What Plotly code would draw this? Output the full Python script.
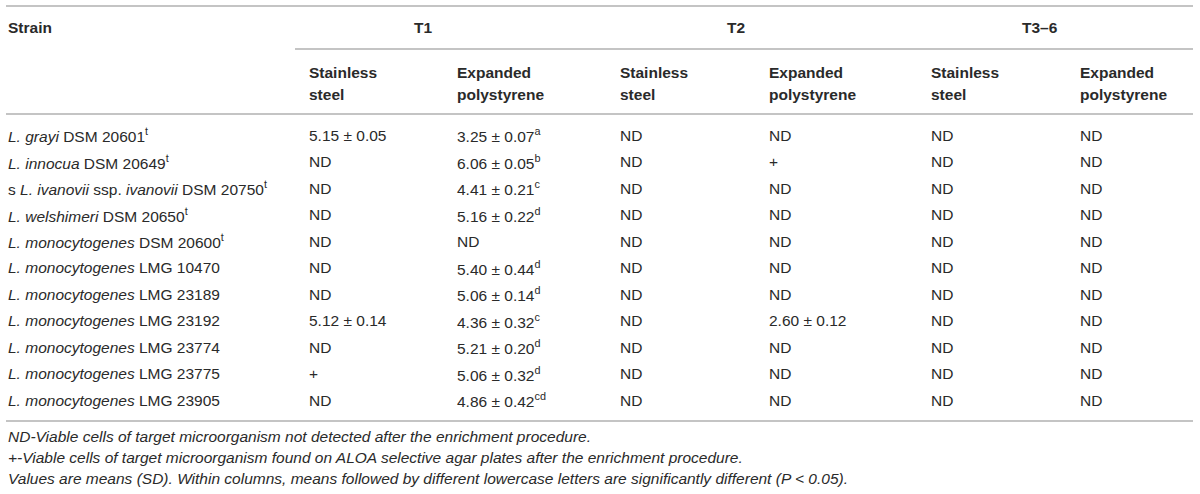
import plotly.graph_objects as go

# --- table content -------------------------------------------------------
strains = [
    "<i>L. grayi</i> DSM 20601<sup>t</sup>",
    "<i>L. innocua</i> DSM 20649<sup>t</sup>",
    "s <i>L. ivanovii</i> ssp. <i>ivanovii</i> DSM 20750<sup>t</sup>",
    "<i>L. welshimeri</i> DSM 20650<sup>t</sup>",
    "<i>L. monocytogenes</i> DSM 20600<sup>t</sup>",
    "<i>L. monocytogenes</i> LMG 10470",
    "<i>L. monocytogenes</i> LMG 23189",
    "<i>L. monocytogenes</i> LMG 23192",
    "<i>L. monocytogenes</i> LMG 23774",
    "<i>L. monocytogenes</i> LMG 23775",
    "<i>L. monocytogenes</i> LMG 23905",
]

t1_steel = ["5.15 ± 0.05", "ND", "ND", "ND", "ND", "ND", "ND",
            "5.12 ± 0.14", "ND", "+", "ND"]
t1_eps = ["3.25 ± 0.07", "6.06 ± 0.05", "4.41 ± 0.21", "5.16 ± 0.22", "ND",
          "5.40 ± 0.44", "5.06 ± 0.14", "4.36 ± 0.32", "5.21 ± 0.20",
          "5.06 ± 0.32", "4.86 ± 0.42"]
t1_eps_letters = ["a", "b", "c", "d", "", "d", "d", "c", "d", "d", "cd"]
t2_steel = ["ND"] * 11
t2_eps = ["ND", "+", "ND", "ND", "ND", "ND", "ND", "2.60 ± 0.12", "ND", "ND", "ND"]
t3_steel = ["ND"] * 11
t3_eps = ["ND"] * 11

groups = ["T1", "T2", "T3–6"]
subheaders = [("Stainless", "steel"), ("Expanded", "polystyrene")]

footnotes = [
    "ND-Viable cells of target microorganism not detected after the enrichment procedure.",
    "+-Viable cells of target microorganism found on ALOA selective agar plates after the enrichment procedure.",
    "Values are means (SD). Within columns, means followed by different lowercase letters are significantly different (<i>P</i> < 0.05).",
]

# --- layout constants (pixels) ------------------------------------------
W, H = 1200, 494
LEFT, RIGHT = 6, 1193
col_x = [307, 455, 618, 767, 929, 1078]
group_x = [423, 736, 1040]
row0, row_step = 135, 26.5
FONT = "Liberation Sans, Arial, Helvetica, sans-serif"
TXT = "#2a2a2a"
RULE = "#b0b0b0"
FS = 15.5

columns = [
    t1_steel,
    [v + (f"<sup>{l}</sup>" if l else "") for v, l in zip(t1_eps, t1_eps_letters)],
    t2_steel, t2_eps, t3_steel, t3_eps,
]

fig = go.Figure()
fig.add_trace(go.Scatter(x=[0], y=[0], mode="markers", marker=dict(opacity=0),
                         hoverinfo="skip", showlegend=False))

ann = []


def text(x, y, s, bold=False, italic=False, anchor="left"):
    if bold:
        s = f"<b>{s}</b>"
    if italic:
        s = f"<i>{s}</i>"
    ann.append(dict(x=x, y=y, xref="x", yref="y", text=s, showarrow=False,
                    xanchor=anchor, yanchor="middle",
                    font=dict(family=FONT, size=FS, color=TXT)))


# header
text(LEFT, 27, "Strain", bold=True)
for gx, g in zip(group_x, groups):
    text(gx, 27, g, bold=True, anchor="center")
for i, cx in enumerate(col_x):
    top, bottom = subheaders[i % 2]
    text(cx, 72, top, bold=True)
    text(cx, 94, bottom, bold=True)

# body
for r, s in enumerate(strains):
    y = row0 + r * row_step
    text(LEFT, y, s)
    for cx, col in zip(col_x, columns):
        text(cx, y, col[r])

# footnotes
for k, f in enumerate(footnotes):
    text(LEFT, 436 + k * 21, f, italic=True)

shapes = []
for y0, x0 in [(6, 6), (49, 295), (114, 6), (421, 6)]:
    shapes.append(dict(type="line", xref="x", yref="y", x0=x0, x1=RIGHT,
                       y0=y0, y1=y0, line=dict(color=RULE, width=1.6)))

fig.update_layout(
    width=W, height=H,
    margin=dict(l=0, r=0, t=0, b=0),
    paper_bgcolor="white", plot_bgcolor="white",
    xaxis=dict(range=[0, W], visible=False, fixedrange=True),
    yaxis=dict(range=[H, 0], visible=False, fixedrange=True),
    annotations=ann, shapes=shapes, showlegend=False,
)

fig.write_html("out.html", config={"displayModeBar": False},
               post_script="document.body.style.margin='0px';")
